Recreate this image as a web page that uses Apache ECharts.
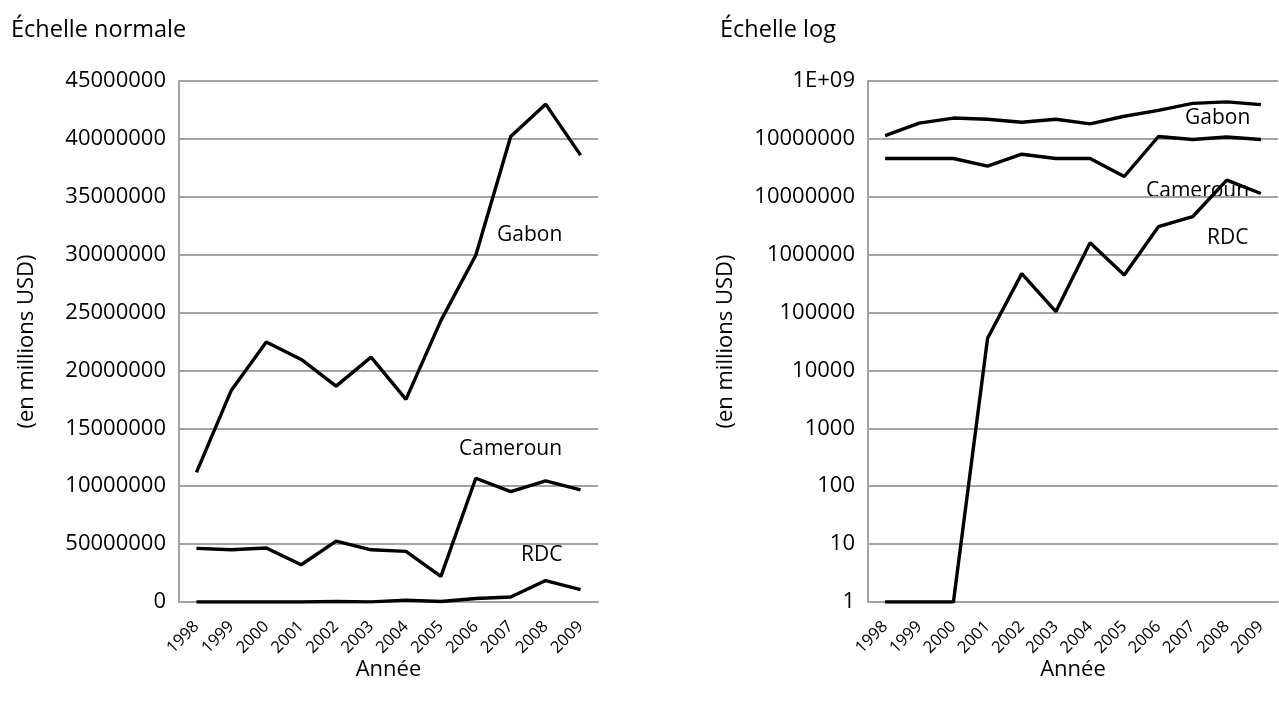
<!DOCTYPE html>
<html>
<head>
<meta charset="utf-8">
<script src="https://cdn.jsdelivr.net/npm/echarts@6/dist/echarts.min.js"></script>
<style>
html,body{margin:0;padding:0;background:#fff;}
#c{width:1279px;height:707px;}
</style>
</head>
<body>
<div id="c"></div>
<script>
// ---- Data ----
const years = ['1998','1999','2000','2001','2002','2003','2004','2005','2006','2007','2008','2009'];

// Linear panel values
const gabonLin    = [11200000, 18300000, 22450000, 20950000, 18650000, 21150000, 17500000, 24300000, 29950000, 40200000, 43000000, 38600000];
const camerounLin = [4630000, 4510000, 4660000, 3220000, 5260000, 4510000, 4370000, 2210000, 10690000, 9540000, 10460000, 9680000];
const rdcLin      = [0, 0, 0, 3600, 47000, 10000, 160000, 45000, 300000, 430000, 1850000, 1070000];

// Log panel values
const gabonLog    = [114000000, 187000000, 229000000, 218000000, 194000000, 218000000, 182000000, 246000000, 310000000, 410000000, 436000000, 390000000];
const camerounLog = [45800000, 45800000, 45800000, 33800000, 54400000, 45800000, 45800000, 22400000, 110000000, 97400000, 108000000, 97400000];
const rdcLog      = [1, 1, 1, 36000, 470000, 104000, 1610000, 446000, 3040000, 4520000, 19400000, 11400000];

// Tick labels as printed on the original
const linTickLabels = ['0','50000000','10000000','15000000','20000000','25000000','30000000','35000000','40000000','45000000'];
const logTickLabels = ['1','10','100','1000','10000','100000','1000000','10000000','10000000','1E+09'];

const FONT = '"Open Sans", sans-serif';
const chart = echarts.init(document.getElementById('c'));

const gridLine = {show:true, lineStyle:{color:'#a3a3a3', width:2}};
const axisLine = {show:true, lineStyle:{color:'#a3a3a3', width:2}};

function xAx(i){
  return {
    type:'category', gridIndex:i, data:years, boundaryGap:true,
    axisLine:axisLine, axisTick:{show:false},
    axisLabel:{interval:0, rotate:45, margin:22, color:'#000', fontFamily:FONT, fontSize:16.5},
    name:'Année', nameLocation:'middle', nameGap:57, nameMoveOverlap:false,
    nameTextStyle:{color:'#000', fontFamily:FONT, fontSize:22}
  };
}
function line(name, data, i){
  return {name:name, type:'line', xAxisIndex:i, yAxisIndex:i, data:data,
    showSymbol:false, symbol:'none', lineStyle:{color:'#000', width:3.4}, itemStyle:{color:'#000'},
    silent:true, animation:false};
}
function txt(x, y, s){
  return {type:'text', left:x, top:y, style:{text:s, fill:'#000', font:'21px "Open Sans", sans-serif'}};
}

chart.setOption({
  animation:false,
  title:[
    {text:'Échelle normale', left:6, top:13, textStyle:{fontFamily:FONT, fontSize:23.5, fontWeight:'normal', color:'#000'}},
    {text:'Échelle log', left:715, top:13, textStyle:{fontFamily:FONT, fontSize:23.5, fontWeight:'normal', color:'#000'}}
  ],
  grid:[
    {left:179, right:681, top:81, bottom:105},
    {left:868, right:1, top:81, bottom:105}
  ],
  xAxis:[xAx(0), xAx(1)],
  yAxis:[
    {type:'value', gridIndex:0, min:0, max:45000000, interval:5000000,
     axisLine:axisLine, axisTick:{show:false}, splitLine:gridLine,
     axisLabel:{margin:13, color:'#000', fontFamily:FONT, fontSize:22,
       formatter:function(v){ return linTickLabels[Math.round(v/5000000)]; }},
     name:'(en millions USD)', nameLocation:'middle', nameGap:141, nameRotate:90,
     nameTextStyle:{color:'#000', fontFamily:FONT, fontSize:22}},
    {type:'log', gridIndex:1, logBase:10, min:1, max:1000000000,
     axisLine:axisLine, axisTick:{show:false}, splitLine:gridLine, minorSplitLine:{show:false},
     axisLabel:{margin:13, color:'#000', fontFamily:FONT, fontSize:22,
       formatter:function(v){ return logTickLabels[Math.round(Math.log10(v))]; }},
     name:'(en millions USD)', nameLocation:'middle', nameGap:131, nameRotate:90,
     nameTextStyle:{color:'#000', fontFamily:FONT, fontSize:22}}
  ],
  series:[
    line('Gabon', gabonLin, 0), line('Cameroun', camerounLin, 0), line('RDC', rdcLin, 0),
    line('Gabon', gabonLog, 1), line('Cameroun', camerounLog, 1), line('RDC', rdcLog, 1)
  ],
  graphic:[
    txt(497, 225, 'Gabon'), txt(459, 439, 'Cameroun'), txt(521, 545, 'RDC'),
    txt(1185, 108, 'Gabon'), txt(1146, 181, 'Cameroun'), txt(1207, 228, 'RDC')
  ]
});
</script>
</body>
</html>
